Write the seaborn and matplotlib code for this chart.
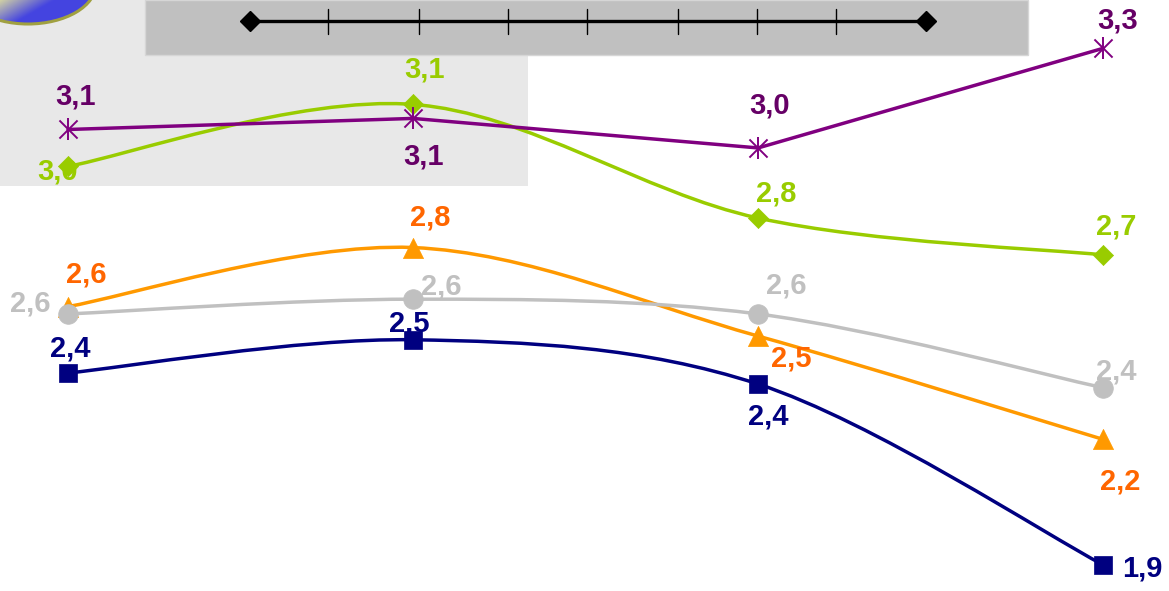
import numpy as np
import pandas as pd
import matplotlib
matplotlib.use("Agg")
import matplotlib.pyplot as plt
import seaborn as sns
from matplotlib.path import Path
from matplotlib.patches import PathPatch, Rectangle, Ellipse
from matplotlib.lines import Line2D

# ---------------- data ----------------
periods = [0, 1, 2, 3]
purple_vals = [3.08, 3.11, 3.03, 3.30]
green_vals = [2.98, 3.148, 2.84, 2.74]
orange_vals = [2.60, 2.76, 2.52, 2.24]
grey_vals = [2.58, 2.62, 2.58, 2.38]
navy_vals = [2.42, 2.51, 2.39, 1.90]

# ---------------- styling ----------------
sns.set_theme(style="white")
plt.rcParams["font.family"] = ["Liberation Sans", "DejaVu Sans"]

W, H = 1169, 591
fig = plt.figure(figsize=(W / 100, H / 100), dpi=100)
ax = fig.add_axes([0, 0, 1, 1])
ax.set_facecolor("none")
fig.patch.set_facecolor("white")
ax.set_xlim(-0.197, 3.191)
ax.set_ylim(1.829, 3.431)
ax.axis("off")


def fx(px):
    return px / W


def fy(py):
    return 1 - py / H


# background decorations (figure pixel coordinates)
tf = fig.transFigure
ax.add_patch(Rectangle((fx(0), fy(186)), fx(528), 186 / H, transform=tf,
                       facecolor="#e8e8e8", edgecolor="none", zorder=0, clip_on=False))
ax.add_patch(Rectangle((fx(145), fy(55)), fx(1028 - 145), 55 / H, transform=tf,
                       facecolor="#c0c0c0", edgecolor="#d6d6d6", lw=1, zorder=0.5, clip_on=False))
ax.add_line(Line2D([fx(250), fx(926)], [fy(21), fy(21)], transform=tf, color="black",
                   lw=2.4, marker="D", markersize=10, markevery=[0, 1], zorder=0.7))
for tx in [328, 419, 508, 587, 678, 757, 836]:
    ax.add_line(Line2D([fx(tx), fx(tx)], [fy(9), fy(34)], transform=tf, color="black",
                       lw=1.0, zorder=0.7))

# gradient ellipse in the top-left corner
eax = fig.add_axes([0, 1 - 40 / H, 110 / W, 40 / H], zorder=5)
eax.set_xlim(0, 110)
eax.set_ylim(40, 0)
eax.axis("off")
eax.set_facecolor("none")
gx, gy = np.meshgrid(np.linspace(0, 110, 220), np.linspace(0, 40, 80))
t = np.clip(0.1 + gx / 60 + 0.7 * gy / 24, 0, 1)[..., None]
c0 = np.array([0.88, 0.88, 0.62])
c1 = np.array([0.27, 0.27, 0.88])
img = (1 - t) * c0 + t * c1
ell = Ellipse((28, -16), 136, 80, facecolor="none", edgecolor="#a0a040", lw=2.2)
im = eax.imshow(img, extent=(0, 110, 40, 0), aspect="auto", interpolation="bilinear")
eax.add_patch(ell)
im.set_clip_path(ell)
eax.set_xlim(0, 110)
eax.set_ylim(40, 0)


def smooth_path(xs, ys):
    pts = np.column_stack([xs, ys]).astype(float)
    n = len(pts)
    verts = [pts[0]]
    codes = [Path.MOVETO]
    for i in range(n - 1):
        p0 = pts[max(i - 1, 0)]
        p1 = pts[i]
        p2 = pts[i + 1]
        p3 = pts[min(i + 2, n - 1)]
        c1_ = p1 + (p2 - p0) / 6
        c2_ = p2 - (p3 - p1) / 6
        verts += [c1_, c2_, p2]
        codes += [Path.CURVE4] * 3
    return Path(verts, codes)


LW = 2.5
FS = 21

series = [
    # values, line color, label color, marker, size, smooth, zorder, label offsets (px)
    (grey_vals, "#c0c0c0", "#c0c0c0", "o", 200, True, 3,
     [(-38, 10), (28, 13), (28, 28), (13, 16)]),
    (orange_vals, "#ff9900", "#ff6600", "^", 210, True, 2,
     [(18, 32), (17, 30), (33, -22), (17, -42)]),
    (navy_vals, "#000080", "#000080", "s", 185, True, 4,
     [(2, 24), (-4, 16), (10, -32), (39, -4)]),
    (green_vals, "#99cc00", "#99cc00", "D", 105, True, 5,
     [(-10, -5), (12, 35), (18, 25), (13, 28)]),
    (purple_vals, "#800080", "#660066", None, 0, False, 6,
     [(8, 33), (11, -38), (12, 42), (14, 28)]),
]

for vals, lc, tc, mk, sz, smooth, z, offs in series:
    df = pd.DataFrame({"period": periods, "value": vals})
    if smooth:
        ax.add_patch(PathPatch(smooth_path(df["period"], df["value"]), facecolor="none",
                               edgecolor=lc, lw=LW, zorder=z, capstyle="round", joinstyle="round"))
    else:
        sns.lineplot(data=df, x="period", y="value", color=lc, lw=LW, ax=ax,
                     zorder=z, legend=False)
    if mk is not None:
        sns.scatterplot(data=df, x="period", y="value", marker=mk, s=sz, color=lc,
                        edgecolor=lc, linewidth=0.5, ax=ax, zorder=z + 0.5, legend=False)
    else:
        sns.scatterplot(data=df, x="period", y="value", marker="x", s=170, color=lc,
                        linewidth=1.4, ax=ax, zorder=z + 0.5, legend=False)
        sns.scatterplot(data=df, x="period", y="value", marker="|", s=250, color=lc,
                        linewidth=1.4, ax=ax, zorder=z + 0.5, legend=False)
    for xv, yv, (dx, dy) in zip(periods, vals, offs):
        ax.annotate(f"{yv:.1f}".replace(".", ","), (xv, yv), xytext=(dx, dy),
                    textcoords="offset pixels", ha="center", va="center",
                    color=tc, fontsize=FS, fontweight="bold", zorder=10)

ax.set_xlabel("")
ax.set_ylabel("")
fig.savefig("out.png", dpi=100)
